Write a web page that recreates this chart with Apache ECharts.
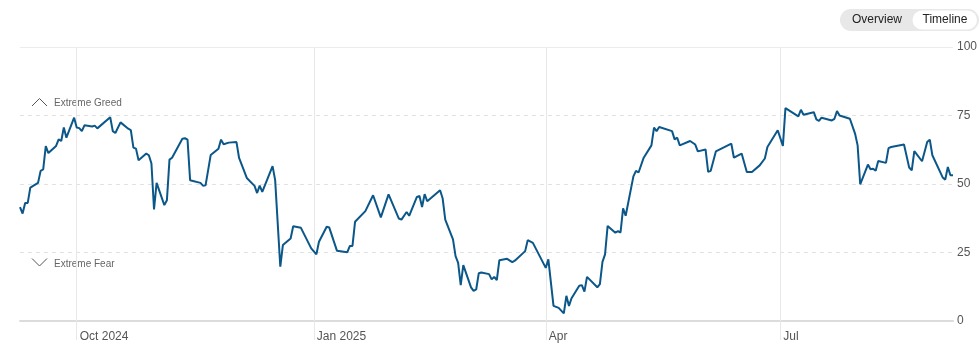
<!DOCTYPE html>
<html>
<head>
<meta charset="utf-8">
<script src="https://cdn.jsdelivr.net/npm/echarts@6/dist/echarts.min.js"></script>
<style>
html,body{margin:0;padding:0;background:#fff;}
#chart{width:980px;height:360px;}
</style>
</head>
<body>
<div id="chart"></div>
<script>
const dates = [
"2024-09-09","2024-09-10","2024-09-11","2024-09-12","2024-09-13","2024-09-16","2024-09-17","2024-09-18","2024-09-19","2024-09-20",
"2024-09-23","2024-09-24","2024-09-25","2024-09-26","2024-09-27","2024-09-30","2024-10-01","2024-10-02","2024-10-03","2024-10-04",
"2024-10-07","2024-10-08","2024-10-09","2024-10-14","2024-10-15","2024-10-16","2024-10-18","2024-10-21","2024-10-22","2024-10-23",
"2024-10-24","2024-10-25","2024-10-28","2024-10-29","2024-10-30","2024-10-31","2024-11-01","2024-11-04","2024-11-05","2024-11-06",
"2024-11-07","2024-11-11","2024-11-12","2024-11-13","2024-11-14","2024-11-18","2024-11-19","2024-11-20","2024-11-22","2024-11-25",
"2024-11-26","2024-11-27","2024-11-29","2024-12-02","2024-12-03","2024-12-06","2024-12-09","2024-12-10","2024-12-11","2024-12-12",
"2024-12-16","2024-12-17","2024-12-19","2024-12-20","2024-12-23","2024-12-24","2024-12-27","2024-12-31","2025-01-02","2025-01-03",
"2025-01-06","2025-01-07","2025-01-10","2025-01-14","2025-01-15","2025-01-16","2025-01-17","2025-01-21","2025-01-24","2025-01-27",
"2025-01-30","2025-02-03","2025-02-04","2025-02-06","2025-02-07","2025-02-10","2025-02-11","2025-02-12","2025-02-13","2025-02-14",
"2025-02-19","2025-02-20","2025-02-21","2025-02-24","2025-02-25","2025-02-26","2025-02-27","2025-02-28","2025-03-03","2025-03-04",
"2025-03-05","2025-03-06","2025-03-07","2025-03-10","2025-03-11","2025-03-12","2025-03-13","2025-03-14","2025-03-17","2025-03-19",
"2025-03-20","2025-03-24","2025-03-25","2025-03-27","2025-04-01","2025-04-02","2025-04-04","2025-04-06","2025-04-07","2025-04-08",
"2025-04-09","2025-04-10","2025-04-11","2025-04-14","2025-04-15","2025-04-16","2025-04-17","2025-04-21","2025-04-22","2025-04-23",
"2025-04-24","2025-04-25","2025-04-28","2025-04-29","2025-04-30","2025-05-01","2025-05-02","2025-05-05","2025-05-06","2025-05-07",
"2025-05-09","2025-05-12","2025-05-13","2025-05-14","2025-05-15","2025-05-20","2025-05-21","2025-05-22","2025-05-23","2025-05-27",
"2025-05-29","2025-05-30","2025-06-02","2025-06-03","2025-06-04","2025-06-06","2025-06-12","2025-06-13","2025-06-16","2025-06-18",
"2025-06-20","2025-06-23","2025-06-25","2025-06-26","2025-06-30","2025-07-02","2025-07-03","2025-07-08","2025-07-09","2025-07-10",
"2025-07-14","2025-07-15","2025-07-16","2025-07-17","2025-07-21","2025-07-22","2025-07-23","2025-07-24","2025-07-28","2025-07-30",
"2025-07-31","2025-08-01","2025-08-04","2025-08-05","2025-08-06","2025-08-07","2025-08-08","2025-08-11","2025-08-12","2025-08-13",
"2025-08-18","2025-08-20","2025-08-21","2025-08-22","2025-08-25","2025-08-27","2025-08-28","2025-08-29","2025-09-02","2025-09-03",
"2025-09-04","2025-09-05","2025-09-06"
];
const values = [
41.6,39.2,43.1,43.1,48.7,50.4,54.8,55.3,63.8,61.3,
63.9,66.3,65.7,70.6,66.9,74.2,70.6,70.4,69.3,71.4,
71.0,71.3,70.3,74.4,69.3,68.6,72.5,70.2,69.7,63.3,
62.9,58.7,61.1,60.5,57.5,40.7,50.4,42.3,44.1,58.9,
59.6,66.5,66.7,66.2,51.4,50.4,49.4,49.5,60.6,62.9,
66.2,64.5,65.1,65.3,59.5,52.2,49.3,46.7,49.4,47.1,
56.5,51.4,19.8,27.7,30.1,34.6,34.0,26.5,24.3,28.9,
34.4,34.1,25.6,25.1,27.4,27.4,36.2,40.1,45.9,37.8,
46.2,37.4,37.0,39.8,38.4,45.3,45.6,41.6,46.3,43.7,
47.7,44.7,37.0,29.8,23.7,21.2,13.1,20.4,12.3,11.0,
11.5,17.4,17.7,17.1,15.2,16.1,14.9,22.2,22.7,21.5,
22.0,25.5,29.5,28.5,19.4,22.5,5.5,4.8,3.8,2.8,
9.2,5.5,8.3,12.9,13.1,10.7,16.1,12.3,13.5,21.6,
24.3,34.7,32.2,32.8,32.3,41.1,38.4,52.8,54.8,54.2,
59.6,64.1,70.6,69.3,70.8,69.3,66.3,66.9,64.1,65.7,
64.4,61.9,62.6,54.4,54.8,61.9,64.7,59.6,61.1,54.4,
54.4,56.8,59.3,63.5,69.6,63.9,77.7,74.7,77.1,75.3,
76.2,73.6,73.0,74.2,73.2,73.8,76.6,75.0,73.8,68.4,
64.1,49.9,57.1,55.4,55.6,54.8,58.4,57.7,63.1,63.5,
64.4,56.0,55.0,62.0,58.3,65.3,66.2,60.5,52.4,51.6,
56.2,53.2,53.2
];
const quarterDates = ["2024-10-01","2025-01-01","2025-04-01","2025-07-01"];
const quarterLabels = ["Oct 2024","Jan 2025","Apr","Jul"];
const yTicks = [0,25,50,75,100];

const FONT = "'Liberation Sans', Arial, sans-serif";
const toTs = d => { const p = d.split('-').map(Number); return Date.UTC(p[0], p[1] - 1, p[2]); };
const quarterTs = quarterDates.map(toTs);
const seriesData = dates.map((d, i) => [toTs(d), values[i]]);

const chart = echarts.init(document.getElementById('chart'), null, {renderer: 'canvas'});
chart.setOption({
  animation: false,
  grid: {left: 20, right: 26, top: 47, bottom: 39},
  xAxis: {
    type: 'value',
    min: toTs(dates[0]),
    max: toTs(dates[dates.length - 1]),
    axisLine: {show: true, lineStyle: {color: '#dcdcdc', width: 2}},
    axisTick: {show: true, customValues: quarterTs, length: 19, lineStyle: {color: '#e8e8e8', width: 1}},
    splitLine: {show: false},
    axisLabel: {
      customValues: quarterTs,
      align: 'left',
      padding: [0, 0, 0, 3],
      margin: 10,
      color: '#555',
      fontSize: 12,
      fontFamily: FONT,
      formatter: function (v) {
        const i = quarterTs.indexOf(v);
        return i >= 0 ? quarterLabels[i] : '';
      }
    }
  },
  yAxis: {
    type: 'value',
    position: 'right',
    min: yTicks[0],
    max: yTicks[yTicks.length - 1],
    interval: 25,
    axisLine: {show: false},
    axisTick: {show: false},
    axisLabel: {color: '#555', fontSize: 12, fontFamily: FONT, margin: 4},
    splitLine: {show: true, lineStyle: {color: '#e2e2e2', width: 1, type: [4, 4]}}
  },
  series: [
    {
      type: 'line',
      z: 1,
      data: seriesData,
      silent: true,
      symbol: 'none',
      lineStyle: {opacity: 0},
      markLine: {
        silent: true,
        z: 1,
        symbol: ['none', 'none'],
        label: {show: false},
        animation: false,
        data: quarterTs.map(t => ({xAxis: t, lineStyle: {color: '#e8e8e8', width: 1, type: 'solid'}}))
          .concat([{yAxis: 100, lineStyle: {color: '#ececec', width: 1, type: 'solid'}}])
      }
    },
    {
      type: 'line',
      z: 5,
      data: seriesData,
      symbol: 'none',
      smooth: false,
      lineStyle: {color: '#0b5789', width: 2},
      emphasis: {disabled: true}
    }
  ],
  graphic: [
    {type: 'polyline', shape: {points: [[32, 106], [39.5, 98.5], [47, 106]]}, style: {stroke: '#555', lineWidth: 1, fill: null}},
    {type: 'text', left: 54, top: 98.5, style: {text: 'Extreme Greed', fill: '#666', font: '10px ' + FONT}},
    {type: 'polyline', shape: {points: [[32, 258.5], [39.5, 266], [47, 258.5]]}, style: {stroke: '#555', lineWidth: 1, fill: null}},
    {type: 'text', left: 54, top: 259.5, style: {text: 'Extreme Fear', fill: '#666', font: '10px ' + FONT}},
    {type: 'rect', shape: {x: 840, y: 9, width: 139, height: 22, r: 11}, style: {fill: '#e8e8e8'}},
    {type: 'rect', shape: {x: 912.5, y: 10.5, width: 64.5, height: 19, r: 9.5}, style: {fill: '#ffffff'}},
    {type: 'text', x: 877, y: 20, style: {text: 'Overview', fill: '#222', font: '12px ' + FONT, align: 'center', verticalAlign: 'middle'}},
    {type: 'text', x: 945, y: 20, style: {text: 'Timeline', fill: '#222', font: '12px ' + FONT, align: 'center', verticalAlign: 'middle'}}
  ]
});
</script>
</body>
</html>
